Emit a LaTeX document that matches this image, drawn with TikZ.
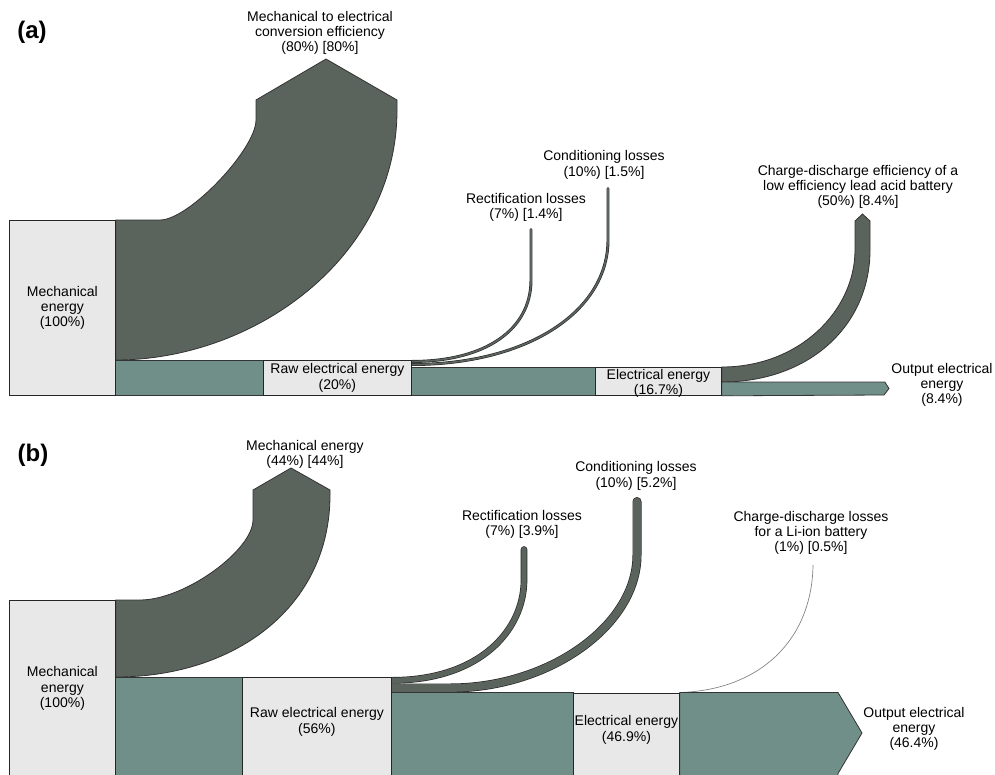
\documentclass[tikz,border=0pt]{standalone}
\usepackage{fontspec}
\setmainfont{Liberation Sans}
\usetikzlibrary{backgrounds}
\definecolor{flowdark}{RGB}{91,99,93}
\definecolor{flowteal}{RGB}{113,143,137}
\definecolor{boxgray}{RGB}{232,232,232}
\newcommand{\pxu}{0.75pt}
\tikzset{
  stock/.style={draw=black!85, fill=boxgray, line width=0.6pt, inner sep=0pt, anchor=north west},
  lossflow/.style={draw=black!80, fill=flowdark, line width=0.6pt},
  elecflow/.style={draw=black!80, fill=flowteal, line width=0.6pt},
  lossline/.style={draw=black!85, double=flowdark, line width=0.45pt, line cap=round},
  thinloss/.style={draw=gray, line width=0.5pt},
  lbl/.style={align=center, font=\fontsize{10.5}{11.5}\selectfont, inner sep=0pt},
  panel/.style={font=\fontsize{18}{20}\selectfont\bfseries, inner sep=0pt}
}
\begin{document}
\begin{tikzpicture}[x=0.75pt, y=-0.75pt]
    \useasboundingbox (0,0) rectangle (995,774);
    % Panel (a)
    \node[panel] (panelA) at (32,32) {(a)};
    \node[stock, minimum width=106*\pxu, minimum height=175*\pxu,
      label={[lbl]center:Mechanical\\energy\\(100\%)}] (mechA) at (9,220) {};
    \node[stock, minimum width=148*\pxu, minimum height=35*\pxu,
      label={[lbl]center:Raw electrical energy\\(20\%)}] (rawA) at (263,360) {};
    \node[stock, minimum width=126*\pxu, minimum height=28*\pxu,
      label={[lbl, yshift=-1.5pt]center:Electrical energy\\(16.7\%)}] (elecA) at (595,367) {};
    \coordinate (mechAtip) at (326,59);
    \coordinate (rectAend) at (531,229.5);
    \coordinate (condAend) at (608,188.5);
    \coordinate (battAtip) at (862.5,214);
    \coordinate (outAtip) at (889,388.5);
    \node[lbl] (mechAlbl) at (320,33) {Mechanical to electrical\\conversion efficiency\\(80\%) [80\%]};
    \node[lbl] (rectAlbl) at (526,207.5) {Rectification losses\\(7\%) [1.4\%]};
    \node[lbl] (condAlbl) at (604,165) {Conditioning losses\\(10\%) [1.5\%]};
    \node[lbl] (battAlbl) at (858,187) {Charge-discharge efficiency of a\\low efficiency lead acid battery\\(50\%) [8.4\%]};
    \node[lbl] (outAlbl) at (942,385) {Output electrical\\energy\\(8.4\%)};
    % Panel (b)
    \node[panel] (panelB) at (33,455) {(b)};
    \node[stock, minimum width=106*\pxu, minimum height=176*\pxu,
      label={[lbl]center:Mechanical\\energy\\(100\%)}] (mechB) at (9,600) {};
    \node[stock, minimum width=149*\pxu, minimum height=99*\pxu,
      label={[lbl, yshift=3.7pt]center:Raw electrical energy\\(56\%)}] (rawB) at (242,677) {};
    \node[stock, minimum width=106*\pxu, minimum height=83.5*\pxu,
      label={[lbl, yshift=3.5pt]center:Electrical energy\\(46.9\%)}] (elecB) at (573,692.5) {};
    \coordinate (mechBtip) at (291,468);
    \coordinate (rectBend) at (524,549.5);
    \coordinate (condBend) at (637,501.5);
    \coordinate (battBend) at (813,565);
    \coordinate (outBtip) at (862,733);
    \node[lbl] (mechBlbl) at (305,454.5) {Mechanical energy\\(44\%) [44\%]};
    \node[lbl] (rectBlbl) at (522,524.5) {Rectification losses\\(7\%) [3.9\%]};
    \node[lbl] (condBlbl) at (636,476) {Conditioning losses\\(10\%) [5.2\%]};
    \node[lbl] (battBlbl) at (811,533) {Charge-discharge losses\\for a Li-ion battery\\(1\%) [0.5\%]};
    \node[lbl] (outBlbl) at (914,729) {Output electrical\\energy\\(46.4\%)};
    % Flows behind the boxes
    \begin{scope}[on background layer]
        % (a)
        \draw[lossflow] (mechA.north east) -- (160,220) .. controls (189,220) and (256,149) .. (256,120)
            -- (256,100) -- (mechAtip) -- (397,100) -- (397,110)
            .. controls (397,257) and (255,360) .. (mechA.east |- rawA.north) -- cycle;
        \draw[elecflow] (mechA.east |- rawA.north) rectangle (rawA.south west);
        \draw[lossline, double distance=1.3pt] ([yshift=-1.1pt]rawA.north east)
            .. controls (485,361.5) and (531,330) .. (531,280) -- (rectAend);
        \draw[lossline, double distance=1.3pt] ([yshift=-3.4pt]rawA.north east)
            .. controls (530,364.5) and (608,310) .. (608,240) -- (condAend);
        \draw[elecflow] (rawA.east |- elecA.north) rectangle (elecA.south west);
        \draw[lossflow] (elecA.north east) .. controls (800,367) and (855,310) .. (855,250)
            -- (855,221) -- (battAtip) -- (870,221) -- (870,250)
            .. controls (870,325) and (810,382) .. ([yshift=-11.25pt]elecA.north east) -- cycle;
        \draw[elecflow] ([yshift=-11.25pt]elecA.north east) -- ++(163,0) -- (outAtip)
            -- (884,395) -- (elecA.south east) -- cycle;
        % (b)
        \draw[lossflow] (mechB.north east) -- (140,600) .. controls (185,600) and (253,550) .. (253,520)
            -- (253,490) -- (mechBtip) -- (330,490) -- (330,495)
            .. controls (330,607) and (235,677) .. (mechB.east |- rawB.north) -- cycle;
        \draw[elecflow] (mechB.east |- rawB.north) rectangle (rawB.south west);
        \draw[lossline, line width=0.5pt, double distance=4pt] ([yshift=-2.5pt]rawB.north east)
            .. controls (480,680.3) and (524,630) .. (524,580) -- (rectBend);
        \draw[lossline, line width=0.5pt, double distance=5.75pt] ([yshift=-8.25pt]rawB.north east)
            -- (450,688) .. controls (550,688) and (637,625) .. (637,555) -- (condBend);
        \draw[elecflow] (rawB.east |- elecB.north) rectangle (elecB.south west);
        \draw[thinloss] (elecB.north east) .. controls (760,690) and (812,640) .. (battBend);
        \draw[elecflow] (elecB.north east) -- (838,692.5) -- (outBtip) -- (838,773.5)
            -- (838,776) -- (elecB.south east) -- cycle;
    \end{scope}
\end{tikzpicture}
\end{document}
